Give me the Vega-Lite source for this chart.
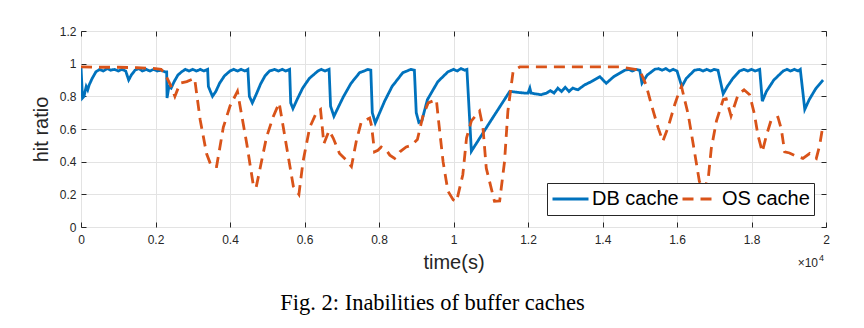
{
  "$schema": "https://vega.github.io/schema/vega-lite/v6.json",
  "width": 745,
  "height": 196,
  "autosize": {"type": "none"},
  "padding": {"left": 81, "top": 31, "right": 38, "bottom": 101},
  "background": "white",
  "title": {
    "text": "Fig. 2: Inabilities of buffer caches",
    "orient": "bottom",
    "anchor": "middle",
    "font": "Liberation Serif",
    "fontSize": 22.5,
    "fontWeight": "normal",
    "color": "black",
    "offset": 20,
    "dx": -21
  },
  "config": {
    "view": {"stroke": "#262626", "strokeWidth": 1},
    "axis": {
      "labelFont": "Liberation Sans",
      "titleFont": "Liberation Sans",
      "labelColor": "#262626",
      "titleColor": "#262626",
      "tickColor": "#262626",
      "gridColor": "#e3e3e3",
      "gridWidth": 1,
      "domain": false,
      "titleFontWeight": "normal"
    },
    "legend": {
      "clipHeight": 24
    }
  },
  "datasets": {
    "series": [
      {"t": 0, "v": 0.98, "s": "DB cache"},
      {"t": 0.004, "v": 0.79, "s": "DB cache"},
      {"t": 0.008, "v": 0.8, "s": "DB cache"},
      {"t": 0.014, "v": 0.86, "s": "DB cache"},
      {"t": 0.018, "v": 0.84, "s": "DB cache"},
      {"t": 0.022, "v": 0.87, "s": "DB cache"},
      {"t": 0.03, "v": 0.91, "s": "DB cache"},
      {"t": 0.04, "v": 0.95, "s": "DB cache"},
      {"t": 0.05, "v": 0.965, "s": "DB cache"},
      {"t": 0.06, "v": 0.955, "s": "DB cache"},
      {"t": 0.07, "v": 0.97, "s": "DB cache"},
      {"t": 0.08, "v": 0.96, "s": "DB cache"},
      {"t": 0.09, "v": 0.965, "s": "DB cache"},
      {"t": 0.1, "v": 0.955, "s": "DB cache"},
      {"t": 0.11, "v": 0.965, "s": "DB cache"},
      {"t": 0.12, "v": 0.955, "s": "DB cache"},
      {"t": 0.128, "v": 0.9, "s": "DB cache"},
      {"t": 0.135, "v": 0.93, "s": "DB cache"},
      {"t": 0.145, "v": 0.96, "s": "DB cache"},
      {"t": 0.155, "v": 0.97, "s": "DB cache"},
      {"t": 0.165, "v": 0.955, "s": "DB cache"},
      {"t": 0.175, "v": 0.965, "s": "DB cache"},
      {"t": 0.185, "v": 0.955, "s": "DB cache"},
      {"t": 0.195, "v": 0.965, "s": "DB cache"},
      {"t": 0.205, "v": 0.955, "s": "DB cache"},
      {"t": 0.215, "v": 0.96, "s": "DB cache"},
      {"t": 0.225, "v": 0.95, "s": "DB cache"},
      {"t": 0.23, "v": 0.95, "s": "DB cache"},
      {"t": 0.231, "v": 0.79, "s": "DB cache"},
      {"t": 0.236, "v": 0.86, "s": "DB cache"},
      {"t": 0.242, "v": 0.85, "s": "DB cache"},
      {"t": 0.25, "v": 0.89, "s": "DB cache"},
      {"t": 0.26, "v": 0.93, "s": "DB cache"},
      {"t": 0.27, "v": 0.95, "s": "DB cache"},
      {"t": 0.28, "v": 0.965, "s": "DB cache"},
      {"t": 0.29, "v": 0.955, "s": "DB cache"},
      {"t": 0.3, "v": 0.965, "s": "DB cache"},
      {"t": 0.31, "v": 0.955, "s": "DB cache"},
      {"t": 0.32, "v": 0.965, "s": "DB cache"},
      {"t": 0.33, "v": 0.955, "s": "DB cache"},
      {"t": 0.34, "v": 0.965, "s": "DB cache"},
      {"t": 0.342, "v": 0.86, "s": "DB cache"},
      {"t": 0.353, "v": 0.8, "s": "DB cache"},
      {"t": 0.362, "v": 0.83, "s": "DB cache"},
      {"t": 0.372, "v": 0.88, "s": "DB cache"},
      {"t": 0.385, "v": 0.925, "s": "DB cache"},
      {"t": 0.4, "v": 0.955, "s": "DB cache"},
      {"t": 0.41, "v": 0.965, "s": "DB cache"},
      {"t": 0.42, "v": 0.955, "s": "DB cache"},
      {"t": 0.43, "v": 0.965, "s": "DB cache"},
      {"t": 0.44, "v": 0.955, "s": "DB cache"},
      {"t": 0.448, "v": 0.965, "s": "DB cache"},
      {"t": 0.452, "v": 0.8, "s": "DB cache"},
      {"t": 0.46, "v": 0.76, "s": "DB cache"},
      {"t": 0.47, "v": 0.81, "s": "DB cache"},
      {"t": 0.482, "v": 0.875, "s": "DB cache"},
      {"t": 0.494, "v": 0.925, "s": "DB cache"},
      {"t": 0.506, "v": 0.955, "s": "DB cache"},
      {"t": 0.52, "v": 0.965, "s": "DB cache"},
      {"t": 0.53, "v": 0.955, "s": "DB cache"},
      {"t": 0.54, "v": 0.965, "s": "DB cache"},
      {"t": 0.55, "v": 0.955, "s": "DB cache"},
      {"t": 0.56, "v": 0.965, "s": "DB cache"},
      {"t": 0.563, "v": 0.76, "s": "DB cache"},
      {"t": 0.569, "v": 0.725, "s": "DB cache"},
      {"t": 0.58, "v": 0.78, "s": "DB cache"},
      {"t": 0.595, "v": 0.85, "s": "DB cache"},
      {"t": 0.613, "v": 0.91, "s": "DB cache"},
      {"t": 0.636, "v": 0.955, "s": "DB cache"},
      {"t": 0.645, "v": 0.965, "s": "DB cache"},
      {"t": 0.655, "v": 0.955, "s": "DB cache"},
      {"t": 0.666, "v": 0.965, "s": "DB cache"},
      {"t": 0.67, "v": 0.74, "s": "DB cache"},
      {"t": 0.679, "v": 0.678, "s": "DB cache"},
      {"t": 0.69, "v": 0.73, "s": "DB cache"},
      {"t": 0.705, "v": 0.8, "s": "DB cache"},
      {"t": 0.725, "v": 0.88, "s": "DB cache"},
      {"t": 0.748, "v": 0.945, "s": "DB cache"},
      {"t": 0.76, "v": 0.955, "s": "DB cache"},
      {"t": 0.77, "v": 0.965, "s": "DB cache"},
      {"t": 0.778, "v": 0.96, "s": "DB cache"},
      {"t": 0.782, "v": 0.7, "s": "DB cache"},
      {"t": 0.79, "v": 0.637, "s": "DB cache"},
      {"t": 0.8, "v": 0.69, "s": "DB cache"},
      {"t": 0.815, "v": 0.77, "s": "DB cache"},
      {"t": 0.835, "v": 0.86, "s": "DB cache"},
      {"t": 0.864, "v": 0.945, "s": "DB cache"},
      {"t": 0.875, "v": 0.955, "s": "DB cache"},
      {"t": 0.885, "v": 0.965, "s": "DB cache"},
      {"t": 0.895, "v": 0.96, "s": "DB cache"},
      {"t": 0.9, "v": 0.7, "s": "DB cache"},
      {"t": 0.907, "v": 0.64, "s": "DB cache"},
      {"t": 0.915, "v": 0.65, "s": "DB cache"},
      {"t": 0.93, "v": 0.78, "s": "DB cache"},
      {"t": 0.958, "v": 0.89, "s": "DB cache"},
      {"t": 0.985, "v": 0.95, "s": "DB cache"},
      {"t": 1.0, "v": 0.965, "s": "DB cache"},
      {"t": 1.01, "v": 0.955, "s": "DB cache"},
      {"t": 1.02, "v": 0.97, "s": "DB cache"},
      {"t": 1.03, "v": 0.96, "s": "DB cache"},
      {"t": 1.036, "v": 0.965, "s": "DB cache"},
      {"t": 1.048, "v": 0.464, "s": "DB cache"},
      {"t": 1.1, "v": 0.65, "s": "DB cache"},
      {"t": 1.151, "v": 0.83, "s": "DB cache"},
      {"t": 1.17, "v": 0.825, "s": "DB cache"},
      {"t": 1.19, "v": 0.82, "s": "DB cache"},
      {"t": 1.2, "v": 0.82, "s": "DB cache"},
      {"t": 1.205, "v": 0.85, "s": "DB cache"},
      {"t": 1.208, "v": 0.82, "s": "DB cache"},
      {"t": 1.22, "v": 0.815, "s": "DB cache"},
      {"t": 1.235, "v": 0.81, "s": "DB cache"},
      {"t": 1.25, "v": 0.82, "s": "DB cache"},
      {"t": 1.26, "v": 0.835, "s": "DB cache"},
      {"t": 1.27, "v": 0.82, "s": "DB cache"},
      {"t": 1.28, "v": 0.85, "s": "DB cache"},
      {"t": 1.29, "v": 0.83, "s": "DB cache"},
      {"t": 1.3, "v": 0.855, "s": "DB cache"},
      {"t": 1.31, "v": 0.83, "s": "DB cache"},
      {"t": 1.32, "v": 0.85, "s": "DB cache"},
      {"t": 1.334, "v": 0.84, "s": "DB cache"},
      {"t": 1.352, "v": 0.87, "s": "DB cache"},
      {"t": 1.37, "v": 0.89, "s": "DB cache"},
      {"t": 1.393, "v": 0.92, "s": "DB cache"},
      {"t": 1.41, "v": 0.88, "s": "DB cache"},
      {"t": 1.43, "v": 0.92, "s": "DB cache"},
      {"t": 1.46, "v": 0.96, "s": "DB cache"},
      {"t": 1.47, "v": 0.965, "s": "DB cache"},
      {"t": 1.48, "v": 0.955, "s": "DB cache"},
      {"t": 1.49, "v": 0.965, "s": "DB cache"},
      {"t": 1.5, "v": 0.96, "s": "DB cache"},
      {"t": 1.506, "v": 0.88, "s": "DB cache"},
      {"t": 1.52, "v": 0.93, "s": "DB cache"},
      {"t": 1.54, "v": 0.965, "s": "DB cache"},
      {"t": 1.55, "v": 0.97, "s": "DB cache"},
      {"t": 1.56, "v": 0.96, "s": "DB cache"},
      {"t": 1.57, "v": 0.97, "s": "DB cache"},
      {"t": 1.58, "v": 0.955, "s": "DB cache"},
      {"t": 1.59, "v": 0.965, "s": "DB cache"},
      {"t": 1.6, "v": 0.955, "s": "DB cache"},
      {"t": 1.613, "v": 0.86, "s": "DB cache"},
      {"t": 1.625, "v": 0.91, "s": "DB cache"},
      {"t": 1.647, "v": 0.96, "s": "DB cache"},
      {"t": 1.66, "v": 0.965, "s": "DB cache"},
      {"t": 1.67, "v": 0.955, "s": "DB cache"},
      {"t": 1.68, "v": 0.965, "s": "DB cache"},
      {"t": 1.69, "v": 0.955, "s": "DB cache"},
      {"t": 1.7, "v": 0.965, "s": "DB cache"},
      {"t": 1.71, "v": 0.96, "s": "DB cache"},
      {"t": 1.724, "v": 0.815, "s": "DB cache"},
      {"t": 1.735, "v": 0.86, "s": "DB cache"},
      {"t": 1.75, "v": 0.91, "s": "DB cache"},
      {"t": 1.768, "v": 0.955, "s": "DB cache"},
      {"t": 1.78, "v": 0.965, "s": "DB cache"},
      {"t": 1.79, "v": 0.955, "s": "DB cache"},
      {"t": 1.8, "v": 0.965, "s": "DB cache"},
      {"t": 1.81, "v": 0.955, "s": "DB cache"},
      {"t": 1.822, "v": 0.965, "s": "DB cache"},
      {"t": 1.829, "v": 0.77, "s": "DB cache"},
      {"t": 1.84, "v": 0.83, "s": "DB cache"},
      {"t": 1.86, "v": 0.9, "s": "DB cache"},
      {"t": 1.885, "v": 0.955, "s": "DB cache"},
      {"t": 1.895, "v": 0.965, "s": "DB cache"},
      {"t": 1.905, "v": 0.955, "s": "DB cache"},
      {"t": 1.915, "v": 0.965, "s": "DB cache"},
      {"t": 1.925, "v": 0.955, "s": "DB cache"},
      {"t": 1.931, "v": 0.965, "s": "DB cache"},
      {"t": 1.943, "v": 0.72, "s": "DB cache"},
      {"t": 1.955, "v": 0.78, "s": "DB cache"},
      {"t": 1.972, "v": 0.845, "s": "DB cache"},
      {"t": 1.992, "v": 0.9, "s": "DB cache"},

      {"t": 0, "v": 0.98, "s": "OS cache"},
      {"t": 0.05, "v": 0.978, "s": "OS cache"},
      {"t": 0.1, "v": 0.978, "s": "OS cache"},
      {"t": 0.15, "v": 0.975, "s": "OS cache"},
      {"t": 0.2, "v": 0.97, "s": "OS cache"},
      {"t": 0.215, "v": 0.965, "s": "OS cache"},
      {"t": 0.225, "v": 0.94, "s": "OS cache"},
      {"t": 0.24, "v": 0.87, "s": "OS cache"},
      {"t": 0.252, "v": 0.8, "s": "OS cache"},
      {"t": 0.266, "v": 0.88, "s": "OS cache"},
      {"t": 0.284, "v": 0.89, "s": "OS cache"},
      {"t": 0.305, "v": 0.91, "s": "OS cache"},
      {"t": 0.32, "v": 0.655, "s": "OS cache"},
      {"t": 0.337, "v": 0.45, "s": "OS cache"},
      {"t": 0.35, "v": 0.37, "s": "OS cache"},
      {"t": 0.364, "v": 0.37, "s": "OS cache"},
      {"t": 0.382, "v": 0.61, "s": "OS cache"},
      {"t": 0.4, "v": 0.74, "s": "OS cache"},
      {"t": 0.42, "v": 0.83, "s": "OS cache"},
      {"t": 0.445, "v": 0.51, "s": "OS cache"},
      {"t": 0.463, "v": 0.25, "s": "OS cache"},
      {"t": 0.47, "v": 0.24, "s": "OS cache"},
      {"t": 0.498, "v": 0.55, "s": "OS cache"},
      {"t": 0.516, "v": 0.675, "s": "OS cache"},
      {"t": 0.532, "v": 0.76, "s": "OS cache"},
      {"t": 0.552, "v": 0.49, "s": "OS cache"},
      {"t": 0.57, "v": 0.25, "s": "OS cache"},
      {"t": 0.585, "v": 0.2, "s": "OS cache"},
      {"t": 0.596, "v": 0.4, "s": "OS cache"},
      {"t": 0.614, "v": 0.61, "s": "OS cache"},
      {"t": 0.632, "v": 0.7, "s": "OS cache"},
      {"t": 0.643, "v": 0.72, "s": "OS cache"},
      {"t": 0.652, "v": 0.51, "s": "OS cache"},
      {"t": 0.666, "v": 0.59, "s": "OS cache"},
      {"t": 0.677, "v": 0.545, "s": "OS cache"},
      {"t": 0.694, "v": 0.45, "s": "OS cache"},
      {"t": 0.712, "v": 0.41, "s": "OS cache"},
      {"t": 0.726, "v": 0.37, "s": "OS cache"},
      {"t": 0.739, "v": 0.525, "s": "OS cache"},
      {"t": 0.752, "v": 0.64, "s": "OS cache"},
      {"t": 0.775, "v": 0.667, "s": "OS cache"},
      {"t": 0.78, "v": 0.62, "s": "OS cache"},
      {"t": 0.788, "v": 0.46, "s": "OS cache"},
      {"t": 0.797, "v": 0.47, "s": "OS cache"},
      {"t": 0.806, "v": 0.49, "s": "OS cache"},
      {"t": 0.82, "v": 0.47, "s": "OS cache"},
      {"t": 0.829, "v": 0.44, "s": "OS cache"},
      {"t": 0.842, "v": 0.42, "s": "OS cache"},
      {"t": 0.856, "v": 0.46, "s": "OS cache"},
      {"t": 0.873, "v": 0.49, "s": "OS cache"},
      {"t": 0.887, "v": 0.5, "s": "OS cache"},
      {"t": 0.903, "v": 0.535, "s": "OS cache"},
      {"t": 0.918, "v": 0.68, "s": "OS cache"},
      {"t": 0.932, "v": 0.76, "s": "OS cache"},
      {"t": 0.954, "v": 0.78, "s": "OS cache"},
      {"t": 0.958, "v": 0.69, "s": "OS cache"},
      {"t": 0.972, "v": 0.4, "s": "OS cache"},
      {"t": 0.985, "v": 0.22, "s": "OS cache"},
      {"t": 0.999, "v": 0.167, "s": "OS cache"},
      {"t": 1.008, "v": 0.155, "s": "OS cache"},
      {"t": 1.025, "v": 0.32, "s": "OS cache"},
      {"t": 1.035, "v": 0.545, "s": "OS cache"},
      {"t": 1.048, "v": 0.65, "s": "OS cache"},
      {"t": 1.07, "v": 0.71, "s": "OS cache"},
      {"t": 1.079, "v": 0.61, "s": "OS cache"},
      {"t": 1.088, "v": 0.36, "s": "OS cache"},
      {"t": 1.101, "v": 0.24, "s": "OS cache"},
      {"t": 1.11, "v": 0.157, "s": "OS cache"},
      {"t": 1.124, "v": 0.16, "s": "OS cache"},
      {"t": 1.137, "v": 0.4, "s": "OS cache"},
      {"t": 1.146, "v": 0.71, "s": "OS cache"},
      {"t": 1.16, "v": 0.953, "s": "OS cache"},
      {"t": 1.178, "v": 0.98, "s": "OS cache"},
      {"t": 1.45, "v": 0.98, "s": "OS cache"},
      {"t": 1.5, "v": 0.96, "s": "OS cache"},
      {"t": 1.517, "v": 0.87, "s": "OS cache"},
      {"t": 1.531, "v": 0.75, "s": "OS cache"},
      {"t": 1.549, "v": 0.61, "s": "OS cache"},
      {"t": 1.562, "v": 0.525, "s": "OS cache"},
      {"t": 1.576, "v": 0.61, "s": "OS cache"},
      {"t": 1.594, "v": 0.75, "s": "OS cache"},
      {"t": 1.603, "v": 0.81, "s": "OS cache"},
      {"t": 1.612, "v": 0.86, "s": "OS cache"},
      {"t": 1.63, "v": 0.69, "s": "OS cache"},
      {"t": 1.647, "v": 0.46, "s": "OS cache"},
      {"t": 1.66, "v": 0.28, "s": "OS cache"},
      {"t": 1.672, "v": 0.22, "s": "OS cache"},
      {"t": 1.684, "v": 0.3, "s": "OS cache"},
      {"t": 1.692, "v": 0.48, "s": "OS cache"},
      {"t": 1.706, "v": 0.65, "s": "OS cache"},
      {"t": 1.724, "v": 0.78, "s": "OS cache"},
      {"t": 1.732, "v": 0.785, "s": "OS cache"},
      {"t": 1.745, "v": 0.68, "s": "OS cache"},
      {"t": 1.764, "v": 0.81, "s": "OS cache"},
      {"t": 1.78, "v": 0.84, "s": "OS cache"},
      {"t": 1.795, "v": 0.81, "s": "OS cache"},
      {"t": 1.808, "v": 0.69, "s": "OS cache"},
      {"t": 1.817, "v": 0.565, "s": "OS cache"},
      {"t": 1.829, "v": 0.46, "s": "OS cache"},
      {"t": 1.84, "v": 0.56, "s": "OS cache"},
      {"t": 1.853, "v": 0.657, "s": "OS cache"},
      {"t": 1.871, "v": 0.672, "s": "OS cache"},
      {"t": 1.88, "v": 0.6, "s": "OS cache"},
      {"t": 1.889, "v": 0.46, "s": "OS cache"},
      {"t": 1.902, "v": 0.453, "s": "OS cache"},
      {"t": 1.92, "v": 0.433, "s": "OS cache"},
      {"t": 1.938, "v": 0.42, "s": "OS cache"},
      {"t": 1.956, "v": 0.45, "s": "OS cache"},
      {"t": 1.974, "v": 0.42, "s": "OS cache"},
      {"t": 1.983, "v": 0.5, "s": "OS cache"},
      {"t": 1.992, "v": 0.626, "s": "OS cache"}
    ]
  },
  "data": {"name": "series"},
  "layer": [
    {
      "mark": {"type": "line", "strokeWidth": 2.8, "clip": true},
      "encoding": {
        "x": {
          "field": "t", "type": "quantitative",
          "scale": {"domain": [0, 2], "nice": false, "zero": false},
          "axis": {
            "orient": "bottom",
            "values": [0, 0.2, 0.4, 0.6, 0.8, 1, 1.2, 1.4, 1.6, 1.8, 2],
            "format": "~g",
            "title": "time(s)",
            "titleFontSize": 20,
            "titlePadding": 7,
            "labelFontSize": 12,
            "labelPadding": 7,
            "ticks": false,
            "labelFlush": false,
            "grid": true
          }
        },
        "y": {
          "field": "v", "type": "quantitative",
          "scale": {"domain": [0, 1.2], "nice": false},
          "axis": {
            "orient": "left",
            "values": [0, 0.2, 0.4, 0.6, 0.8, 1, 1.2],
            "format": "~g",
            "title": "hit ratio",
            "titleFontSize": 20,
            "titlePadding": 8,
            "labelFontSize": 12,
            "labelPadding": 5,
            "ticks": false,
            "labelFlush": false,
            "grid": true
          }
        },
        "color": {
          "field": "s", "type": "nominal",
          "scale": {"domain": ["DB cache", "OS cache"], "range": ["#0072BD", "#D95319"]},
          "legend": {
            "title": null,
            "orient": "bottom-right",
            "offset": 12,
            "direction": "horizontal",
            "symbolType": "stroke",
            "symbolSize": 1296,
            "symbolStrokeWidth": 2.8,
            "labelFont": "Liberation Sans",
            "labelFontSize": 20,
            "labelColor": "black",
            "labelOffset": 2,
            "columnPadding": 2,
            "padding": 4,
            "clipHeight": 24,
            "strokeColor": "#262626",
            "fillColor": "white"
          }
        },
        "strokeDash": {
          "field": "s", "type": "nominal",
          "scale": {"domain": ["DB cache", "OS cache"], "range": [[1, 0], [11, 7]]},
          "legend": {
            "title": null,
            "orient": "bottom-right",
            "offset": 12,
            "direction": "horizontal",
            "symbolType": "stroke",
            "symbolSize": 1296,
            "symbolStrokeWidth": 2.8,
            "labelFont": "Liberation Sans",
            "labelFontSize": 20,
            "labelColor": "black",
            "labelOffset": 2,
            "columnPadding": 2,
            "padding": 4,
            "clipHeight": 24,
            "strokeColor": "#262626",
            "fillColor": "white"
          }
        }
      }
    },
    {
      "mark": {"type": "line", "opacity": 0},
      "encoding": {
        "x": {
          "field": "t", "type": "quantitative",
          "axis": {"orient": "top", "offset": -196, "values": [0, 0.2, 0.4, 0.6, 0.8, 1, 1.2, 1.4, 1.6, 1.8, 2], "labels": false, "title": null, "grid": false, "ticks": true, "tickSize": 5}
        },
        "y": {
          "field": "v", "type": "quantitative",
          "axis": {"orient": "right", "offset": -745, "values": [0, 0.2, 0.4, 0.6, 0.8, 1, 1.2], "labels": false, "title": null, "grid": false, "ticks": true, "tickSize": 5}
        }
      }
    },
    {
      "mark": {"type": "line", "opacity": 0},
      "encoding": {
        "x": {
          "field": "t", "type": "quantitative",
          "axis": {"orient": "bottom", "offset": -196, "values": [0, 0.2, 0.4, 0.6, 0.8, 1, 1.2, 1.4, 1.6, 1.8, 2], "labels": false, "title": null, "grid": false, "ticks": true, "tickSize": 5}
        },
        "y": {
          "field": "v", "type": "quantitative",
          "axis": {"orient": "left", "offset": -745, "values": [0, 0.2, 0.4, 0.6, 0.8, 1, 1.2], "labels": false, "title": null, "grid": false, "ticks": true, "tickSize": 5}
        }
      }
    },
    {
      "data": {"values": [{"label": "×10"}]},
      "mark": {"type": "text", "align": "right", "baseline": "middle", "dx": -8, "dy": 36, "font": "Liberation Sans", "fontSize": 12, "color": "#262626"},
      "encoding": {
        "x": {"datum": 2, "type": "quantitative", "axis": null},
        "y": {"datum": 0, "type": "quantitative", "axis": null},
        "text": {"field": "label"}
      }
    },
    {
      "data": {"values": [{"label": "4"}]},
      "mark": {"type": "text", "align": "right", "baseline": "middle", "dx": -2, "dy": 31, "font": "Liberation Sans", "fontSize": 9, "color": "#262626"},
      "encoding": {
        "x": {"datum": 2, "type": "quantitative", "axis": null},
        "y": {"datum": 0, "type": "quantitative", "axis": null},
        "text": {"field": "label"}
      }
    }
  ],
  "resolve": {"axis": {"x": "independent", "y": "independent"}}
}
